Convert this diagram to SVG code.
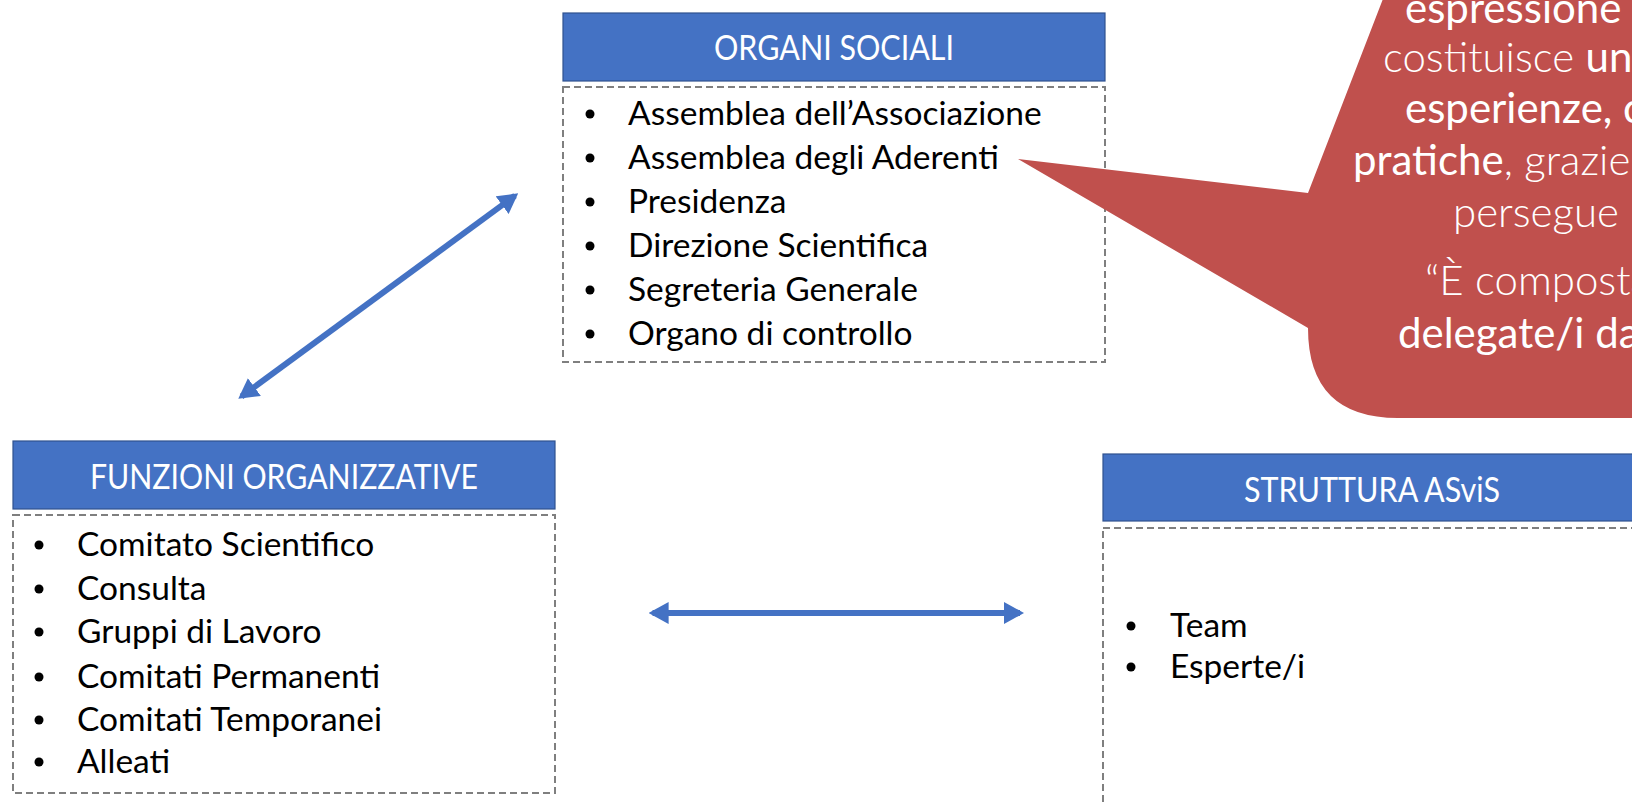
<svg xmlns="http://www.w3.org/2000/svg" width="1632" height="802" viewBox="0 0 1632 802">
<style>
.hdr{fill:#4472C4;stroke:#2F528F;stroke-width:1.2}
.body{fill:#FFFFFF;stroke:#7F7F7F;stroke-width:2;stroke-dasharray:7 4}
.ht{font-family:Lato,"Open Sans","Liberation Sans",sans-serif;font-size:34px;fill:#FFFFFF;text-anchor:middle}
.it{font-family:Lato,"Open Sans","Liberation Sans",sans-serif;font-size:33.5px;fill:#000000}
.bl{fill:#000000}
.conn{stroke:#4472C4;stroke-width:6;fill:none}
.ct{font-family:Lato,"Open Sans","Liberation Sans",sans-serif;font-size:42px;fill:#FFFFFF}
.lt{font-weight:300}
.rg{font-weight:400}
</style>
<defs>
<marker id="ah" viewBox="0 0 10 10" refX="8" refY="5" markerWidth="20" markerHeight="22" orient="auto-start-reverse" markerUnits="userSpaceOnUse" preserveAspectRatio="none">
<path d="M0,0 L10,5 L0,10 Z" fill="#4472C4"/>
</marker>
</defs>

<g id="organi-sociali">
<rect class="hdr" x="563" y="13" width="542" height="68"/>
<text class="ht" x="834" y="60" textLength="240" lengthAdjust="spacingAndGlyphs">ORGANI SOCIALI</text>
<rect class="body" x="563" y="87" width="542" height="275"/>
<circle class="bl" cx="590" cy="114" r="4.5"/>
<text class="it" x="628" y="125">Assemblea dell’Associazione</text>
<circle class="bl" cx="590" cy="158" r="4.5"/>
<text class="it" x="628" y="169">Assemblea degli Aderenti</text>
<circle class="bl" cx="590" cy="202" r="4.5"/>
<text class="it" x="628" y="213">Presidenza</text>
<circle class="bl" cx="590" cy="246" r="4.5"/>
<text class="it" x="628" y="257">Direzione Scientifica</text>
<circle class="bl" cx="590" cy="290" r="4.5"/>
<text class="it" x="628" y="301">Segreteria Generale</text>
<circle class="bl" cx="590" cy="334" r="4.5"/>
<text class="it" x="628" y="345">Organo di controllo</text>
</g>

<g id="funzioni-organizzative">
<rect class="hdr" x="13" y="441" width="542" height="68"/>
<text class="ht" x="284" y="489" textLength="388" lengthAdjust="spacingAndGlyphs">FUNZIONI ORGANIZZATIVE</text>
<rect class="body" x="13" y="515" width="542" height="278"/>
<circle class="bl" cx="39" cy="545" r="4.5"/>
<text class="it" x="77" y="556">Comitato Scientifico</text>
<circle class="bl" cx="39" cy="589" r="4.5"/>
<text class="it" x="77" y="600">Consulta</text>
<circle class="bl" cx="39" cy="632" r="4.5"/>
<text class="it" x="77" y="643">Gruppi di Lavoro</text>
<circle class="bl" cx="39" cy="677" r="4.5"/>
<text class="it" x="77" y="688">Comitati Permanenti</text>
<circle class="bl" cx="39" cy="720" r="4.5"/>
<text class="it" x="77" y="731">Comitati Temporanei</text>
<circle class="bl" cx="39" cy="762" r="4.5"/>
<text class="it" x="77" y="773">Alleati</text>
</g>

<g id="struttura-asvis">
<rect class="hdr" x="1103" y="454" width="540" height="67"/>
<text class="ht" x="1372" y="502" textLength="256" lengthAdjust="spacingAndGlyphs">STRUTTURA ASviS</text>
<rect class="body" x="1103" y="528" width="540" height="290"/>
<circle class="bl" cx="1131" cy="626" r="4.5"/>
<text class="it" x="1170" y="637">Team</text>
<circle class="bl" cx="1131" cy="667" r="4.5"/>
<text class="it" x="1170" y="678">Esperte/i</text>
</g>

<g id="callout">
<path d="M1398,-40 L1660,-40 L1660,418 L1398,418 Q1308,418 1308,328 L1018,159 L1308,193 Z" fill="#C0504D"/>
<text class="ct rg" x="1405" y="23">espressione d</text>
<text class="ct" x="1383" y="72"><tspan class="lt">costituisce </tspan><tspan class="rg">una</tspan></text>
<text class="ct rg" x="1405" y="123">esperienze, c</text>
<text class="ct" x="1353" y="175"><tspan class="rg">pratiche</tspan><tspan class="lt">, grazie</tspan></text>
<text class="ct lt" x="1453" y="227">persegue l</text>
<text class="ct lt" x="1425" y="295">“È composta</text>
<text class="ct rg" x="1398" y="348">delegate/i da</text>
</g>

<g id="connectors">
<line class="conn" x1="241.5" y1="396.5" x2="515" y2="195.7" marker-start="url(#ah)" marker-end="url(#ah)"/>
<line class="conn" x1="652.6" y1="613" x2="1020" y2="613" marker-start="url(#ah)" marker-end="url(#ah)"/>
</g>
</svg>
